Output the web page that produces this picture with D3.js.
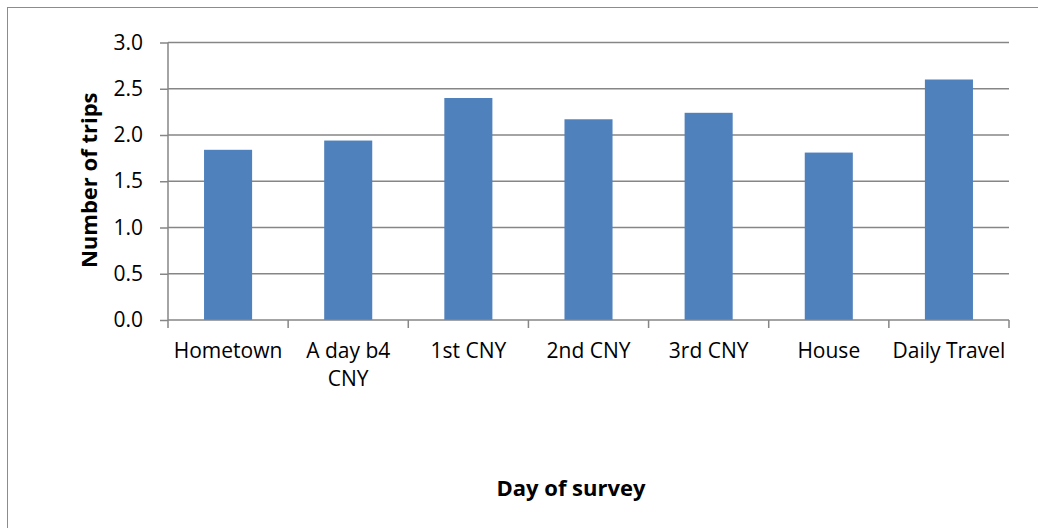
<!DOCTYPE html>
<html>
<head>
<meta charset="utf-8">
<script src="https://cdn.jsdelivr.net/npm/d3@7"></script>
<style>
  body { margin: 0; background: #fff; }
  svg text { font-family: "Open Sans", "Noto Sans", sans-serif; fill: #000; }
</style>
</head>
<body>
<div id="chart"></div>
<script>
// Chart data
var categories = ["Hometown", "A day b4 CNY", "1st CNY", "2nd CNY", "3rd CNY", "House", "Daily Travel"];
var labelLines = [["Hometown"], ["A day b4", "CNY"], ["1st CNY"], ["2nd CNY"], ["3rd CNY"], ["House"], ["Daily Travel"]];
var trips = [1.84, 1.94, 2.40, 2.17, 2.24, 1.81, 2.60];
var yTicks = [0, 0.5, 1.0, 1.5, 2.0, 2.5, 3.0];

var width = 1038, height = 528;
var margin = {top: 42.5, right: 29, bottom: 208, left: 168};
var w = width - margin.left - margin.right,
    h = height - margin.top - margin.bottom;

var svg = d3.select("#chart").append("svg")
    .attr("width", width)
    .attr("height", height);

// outer chart border (only top and left visible)
svg.append("rect")
    .attr("x", 7.5).attr("y", 7.5)
    .attr("width", width + 20).attr("height", height + 20)
    .attr("fill", "none")
    .attr("stroke", "#8c8c8c")
    .attr("stroke-width", 1);

var g = svg.append("g")
    .attr("transform", "translate(" + margin.left + "," + margin.top + ")");

var x = d3.scaleBand().domain(categories).range([0, w]).paddingInner(0.6).paddingOuter(0.3);
var xb = d3.scaleBand().domain(categories).range([0, w]);
var y = d3.scaleLinear().domain([0, 3]).range([h, 0]);

// gridlines
g.selectAll(".grid")
    .data(yTicks.filter(function(d) { return d > 0; }))
    .enter().append("line")
    .attr("x1", 0).attr("x2", w)
    .attr("y1", function(d) { return y(d); })
    .attr("y2", function(d) { return y(d); })
    .attr("stroke", "#868686")
    .attr("stroke-width", 1.5);

// bars
g.selectAll(".bar")
    .data(trips)
    .enter().append("rect")
    .attr("x", function(d, i) { return x(categories[i]); })
    .attr("width", x.bandwidth())
    .attr("y", function(d) { return y(d); })
    .attr("height", function(d) { return h - y(d); })
    .attr("fill", "#4F81BD");

// y axis
var yAxis = d3.axisLeft(y).tickValues(yTicks).tickFormat(d3.format(".1f")).tickSize(8).tickPadding(17);
var ya = g.append("g").call(yAxis);
ya.select(".domain").attr("stroke", "#868686").attr("stroke-width", 1.5).attr("d", "M0,0V" + h);
ya.selectAll(".tick line").attr("stroke", "#868686").attr("stroke-width", 1.5);
ya.selectAll(".tick text").style("font-size", "21px");

// x axis: ticks at category boundaries
var bounds = categories.map(function(c) { return xb(c); }).concat([w]);
var xa = g.append("g").attr("transform", "translate(0," + h + ")");
xa.append("line").attr("x1", 0).attr("x2", w)
    .attr("stroke", "#868686").attr("stroke-width", 1.5);
xa.selectAll(".xt").data(bounds).enter().append("line")
    .attr("x1", function(d) { return d; }).attr("x2", function(d) { return d; })
    .attr("y1", 0).attr("y2", 8)
    .attr("stroke", "#868686").attr("stroke-width", 1.5);

var labels = xa.selectAll(".xl").data(categories).enter().append("text")
    .attr("x", function(c) { return xb(c) + xb.bandwidth() / 2; })
    .attr("y", 38)
    .attr("text-anchor", "middle")
    .style("font-size", "21px");
labels.each(function(c, i) {
    var t = d3.select(this);
    labelLines[i].forEach(function(line, j) {
        t.append("tspan").attr("x", t.attr("x")).attr("dy", j === 0 ? 0 : 28).text(line);
    });
});

// axis titles
svg.append("text")
    .attr("transform", "translate(97," + (margin.top + h / 2 - 1) + ") rotate(-90)")
    .attr("text-anchor", "middle")
    .style("font-size", "22px").style("font-weight", "bold")
    .text("Number of trips");

svg.append("text")
    .attr("x", 571).attr("y", 496)
    .attr("text-anchor", "middle")
    .style("font-size", "22px").style("font-weight", "bold")
    .text("Day of survey");
</script>
</body>
</html>
